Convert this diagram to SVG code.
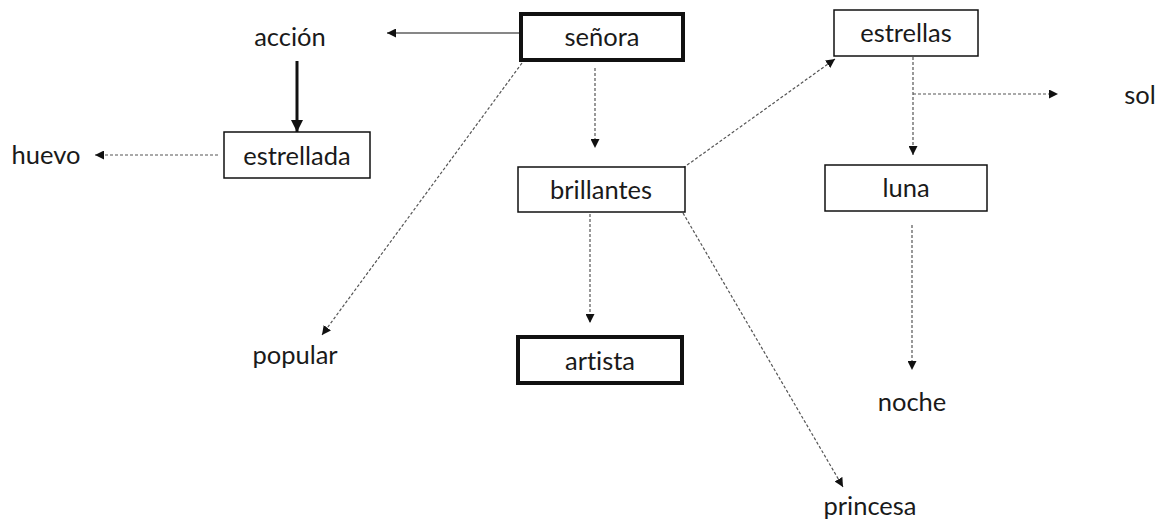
<svg xmlns="http://www.w3.org/2000/svg" width="1167" height="520" viewBox="0 0 1167 520">
  <style>
    text { font-family: Lato, "Open Sans", "Liberation Sans", sans-serif; font-size: 25.5px; fill: #1a1a1a; text-anchor: middle; font-variant-ligatures: none; font-feature-settings: "liga" 0; }
    .box { fill: #fff; stroke: #111; stroke-width: 1.5; }
    .bold { stroke-width: 4; }
    .solid { stroke: #111; stroke-width: 1.2; fill: none; }
    .thick { stroke: #111; stroke-width: 3; fill: none; }
    .dash { stroke: #555; stroke-width: 1.2; stroke-dasharray: 3 2; fill: none; }
  </style>
  <defs>
    <marker id="arr" viewBox="0 0 10 10" refX="10" refY="5" markerWidth="9" markerHeight="9" markerUnits="userSpaceOnUse" orient="auto">
      <path d="M0,0 L10,5 L0,10 Z" fill="#111"/>
    </marker>
    <marker id="arrBig" viewBox="0 0 10 10" refX="10" refY="5" markerWidth="12" markerHeight="12" markerUnits="userSpaceOnUse" orient="auto">
      <path d="M0,0 L10,5 L0,10 Z" fill="#111"/>
    </marker>
  </defs>

  <g id="connectors">
    <line class="solid" x1="520" y1="33" x2="387" y2="33" marker-end="url(#arr)"/>
    <line class="thick" x1="297" y1="61" x2="297" y2="132" marker-end="url(#arrBig)"/>
    <line class="dash" x1="218" y1="155" x2="95" y2="155" marker-end="url(#arr)"/>
    <line class="dash" x1="522" y1="63" x2="322" y2="335" marker-end="url(#arr)"/>
    <line class="dash" x1="595" y1="68" x2="595" y2="148" marker-end="url(#arr)"/>
    <line class="dash" x1="590" y1="214" x2="590" y2="323" marker-end="url(#arr)"/>
    <line class="dash" x1="683" y1="168" x2="835" y2="59" marker-end="url(#arr)"/>
    <line class="dash" x1="683" y1="213" x2="843" y2="487" marker-end="url(#arr)"/>
    <line class="dash" x1="913" y1="57" x2="913" y2="155" marker-end="url(#arr)"/>
    <line class="dash" x1="913" y1="94" x2="1058" y2="94" marker-end="url(#arr)"/>
    <line class="dash" x1="912" y1="225" x2="912" y2="370" marker-end="url(#arr)"/>
  </g>

  <g id="senora">
    <rect class="box bold" x="521" y="14" width="162" height="46"/>
    <text x="602" y="46">señora</text>
  </g>
  <g id="accion">
    <text x="290" y="46">acción</text>
  </g>
  <g id="estrellada">
    <rect class="box" x="224" y="132" width="146" height="46"/>
    <text x="297" y="165">estrellada</text>
  </g>
  <g id="huevo">
    <text x="46" y="164">huevo</text>
  </g>
  <g id="popular">
    <text x="295" y="364">popular</text>
  </g>
  <g id="brillantes">
    <rect class="box" x="518" y="167" width="167" height="45"/>
    <text x="601" y="199">brillantes</text>
  </g>
  <g id="artista">
    <rect class="box bold" x="518" y="337" width="164" height="46"/>
    <text x="600" y="370">artista</text>
  </g>
  <g id="estrellas">
    <rect class="box" x="834" y="10" width="144" height="46"/>
    <text x="906" y="42">estrellas</text>
  </g>
  <g id="sol">
    <text x="1140" y="104">sol</text>
  </g>
  <g id="luna">
    <rect class="box" x="825" y="165" width="162" height="46"/>
    <text x="906" y="197">luna</text>
  </g>
  <g id="noche">
    <text x="912" y="411">noche</text>
  </g>
  <g id="princesa">
    <text x="870" y="515">princesa</text>
  </g>
</svg>
